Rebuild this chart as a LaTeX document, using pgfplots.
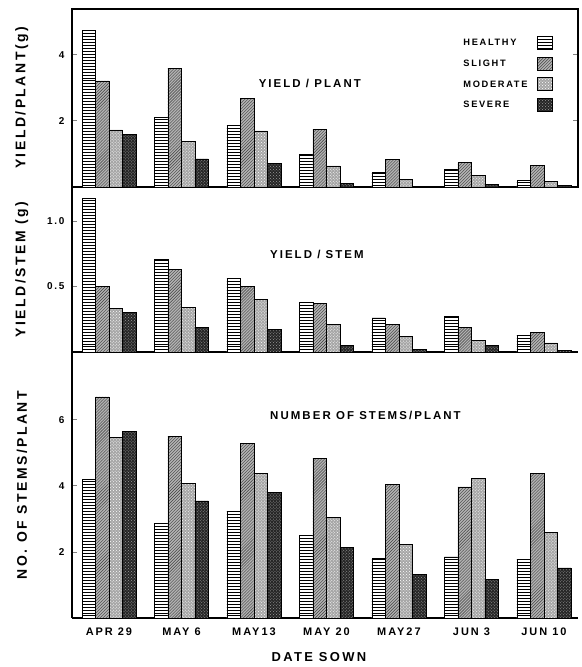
\documentclass[border=0pt]{standalone}
\usepackage{fontspec}
\setmainfont{Liberation Sans}
\newfontfamily\wide{Liberation Sans}[LetterSpace=18]
\usepackage{pgfplots}
\pgfplotsset{compat=1.18}
\usepackage{pgfplotstable}
\usetikzlibrary{patterns}

% yield per plant (g)
\pgfplotstableread{
x h s m v
0 4.76 3.21 1.73 1.60
1 2.10 3.60 1.37 0.85
2 1.86 2.68 1.70 0.72
3 1.00 1.75 0.64 0.12
4 0.45 0.84 0.24 0.03
5 0.54 0.74 0.36 0.08
6 0.21 0.66 0.16 0.04
}\plant
% yield per stem (g)
\pgfplotstableread{
x h s m v
0 1.17 0.50 0.33 0.30
1 0.71 0.63 0.34 0.19
2 0.56 0.50 0.40 0.17
3 0.38 0.37 0.21 0.05
4 0.26 0.21 0.12 0.02
5 0.27 0.19 0.09 0.05
6 0.13 0.15 0.07 0.015
}\stem
% number of stems per plant
\pgfplotstableread{
x h s m v
0 4.20 6.70 5.48 5.65
1 2.87 5.50 4.08 3.55
2 3.24 5.30 4.38 3.80
3 2.52 4.84 3.06 2.15
4 1.80 4.06 2.24 1.33
5 1.85 3.97 4.24 1.18
6 1.79 4.38 2.60 1.52
}\stems

\newcommand\fs[1]{\wide\bfseries\fontsize{#1}{#1}\selectfont}
\tikzset{inlabel/.style={font=\fs{11.5}}}
\pgfplotsset{
  panel/.style={
    scale only axis, width=506bp,
    xmin=-0.51, xmax=6.47, ymin=0,
    axis line style={line width=1.3bp},
    tick align=inside, major tick length=5bp,
    ytick style={line width=1bp},
    xtick=\empty,
    yticklabel style={font=\fs{10}, xshift=-4bp},
    ylabel style={font=\fs{14}, at={(axis description cs:-0.099,0.5)}, anchor=center},
  },
  bars/.style={ybar, bar width=0.186, draw=black, line width=0.6bp},
  hs/.style={bars, bar shift=-0.279, fill=white, postaction={pattern=horizontal lines}},
  sl/.style={bars, bar shift=-0.093, fill=black!30, postaction={pattern=north east lines, pattern color=black!75}},
  md/.style={bars, bar shift=0.093, fill=black!35, postaction={pattern=crosshatch dots, pattern color=white}},
  sv/.style={bars, bar shift=0.279, fill=black!85, postaction={pattern=crosshatch dots, pattern color=black!40}},
}

\begin{document}
\begin{tikzpicture}
% top panel
\begin{axis}[panel, at={(0,0)}, anchor=north west, height=178bp,
  ymax=5.39, ytick={2,4}, yticklabels={2,4},
  ylabel={YIELD/PLANT(g)},
  legend style={draw=none, fill=none, at={(0.957,0.86)}, anchor=north east,
    legend plot pos=right, row sep=7bp, font=\fs{9.3},
    cells={anchor=west}, column sep=8bp},
  legend image code/.code={\draw[#1] (0bp,-6bp) rectangle (15bp,7bp);},
]
\addplot[hs] table[x=x,y=h]{\plant}; \addlegendentry{HEALTHY}
\addplot[sl] table[x=x,y=s]{\plant}; \addlegendentry{SLIGHT}
\addplot[md] table[x=x,y=m]{\plant}; \addlegendentry{MODERATE}
\addplot[sv] table[x=x,y=v]{\plant}; \addlegendentry{SEVERE}
\node[inlabel] at (rel axis cs:0.47,0.58) {YIELD / PLANT};
\end{axis}
% middle panel
\begin{axis}[panel, at={(0,-178bp)}, anchor=north west, height=165bp,
  axis x line*=bottom, axis y line*=left,
  ymax=1.26, ytick={0.5,1.0}, yticklabels={0.5,1.0},
  ylabel={YIELD/STEM (g)},
]
\addplot[hs] table[x=x,y=h]{\stem};
\addplot[sl] table[x=x,y=s]{\stem};
\addplot[md] table[x=x,y=m]{\stem};
\addplot[sv] table[x=x,y=v]{\stem};
\node[inlabel] at (rel axis cs:0.484,0.59) {YIELD / STEM};
\end{axis}
% bottom panel
\begin{axis}[panel, at={(0,-343bp)}, anchor=north west, height=266bp,
  axis x line*=bottom, axis y line*=left,
  ymax=8.06, ytick={2,4,6}, yticklabels={2,4,6},
  ylabel={NO. OF STEMS/PLANT},
  xtick={0,...,6}, xtick style={draw=none},
  xticklabels={APR 29, MAY 6, MAY13, MAY 20, MAY27, JUN 3, JUN 10},
  xticklabel style={font=\fs{11}, yshift=-6bp},
  xlabel={DATE SOWN},
  xlabel style={font=\fs{13}, at={(axis description cs:0.488,-0.147)}, anchor=center},
]
\addplot[hs] table[x=x,y=h]{\stems};
\addplot[sl] table[x=x,y=s]{\stems};
\addplot[md] table[x=x,y=m]{\stems};
\addplot[sv] table[x=x,y=v]{\stems};
\node[inlabel] at (rel axis cs:0.58,0.763) {NUMBER OF STEMS/PLANT};
\end{axis}
\pgfresetboundingbox
\path[use as bounding box] (-72bp,9bp) rectangle (510bp,-658bp);
\end{tikzpicture}
\end{document}
